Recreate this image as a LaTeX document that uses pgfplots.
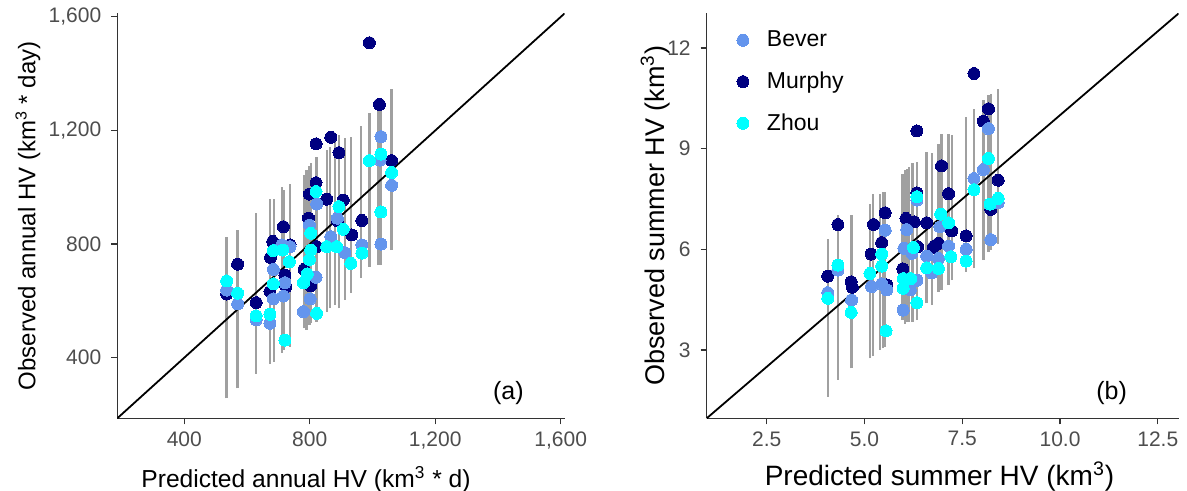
\documentclass[border=0pt]{standalone}
\usepackage{pgfplots}
\pgfplotsset{compat=1.18}
\usepackage{pgfplotstable}
\usepackage{fontspec}
\setmainfont{Liberation Sans}

\definecolor{bever}{HTML}{6495ED}
\definecolor{murphy}{HTML}{000080}
\definecolor{zhou}{HTML}{00FFFF}
\definecolor{intgray}{RGB}{160,160,160}
\definecolor{tickgray}{HTML}{4D4D4D}

% annual panel (a)
\pgfplotstableread{
x y
535 624
570 729
629 594
673 633
682 809
675 753
716 861
721 691
737 797
724 650
820 1016
799 976
796 891
782 711
803 653
822 791
820 1153
854 958
867 1176
893 1122
907 955
888 883
934 832
966 883
990 1509
1022 1292
1027 1178
1061 1094
}\murphyA
\pgfplotstableread{
x y
535 638
570 589
629 533
673 521
684 607
684 711
711 797
737 791
721 664
716 617
822 941
799 867
820 683
801 607
780 562
867 826
912 770
888 891
966 797
1027 1178
1024 1096
1027 800
1061 1007
}\beverA
\pgfplotstableread{
x y
535 670
570 627
629 547
673 553
684 660
684 777
714 779
721 462
735 738
820 985
803 838
799 746
792 695
780 664
822 556
803 779
893 932
854 791
886 791
907 852
931 732
966 768
990 1094
1027 1117
1027 913
1061 1052
}\zhouA
% intervals: low end, high end, break
\pgfplotstableread{
x y
535 257
535 826
535 nan
570 292
570 850
570 nan
629 343
629 911
629 nan
673 378
673 958
673 nan
686 386
686 959
686 nan
711 418
711 1002
711 nan
718 427
718 991
718 nan
737 439
737 1012
737 nan
782 503
782 1043
782 nan
790 498
790 1061
790 nan
799 515
799 1075
799 nan
803 521
803 1084
803 nan
822 527
822 1108
822 nan
854 562
854 1131
854 nan
865 574
865 1143
865 nan
881 586
881 1184
881 nan
893 574
893 1184
893 nan
912 603
912 1172
912 nan
931 627
931 1178
931 nan
963 680
963 1216
963 nan
990 721
990 1261
990 nan
1019 726
1019 1290
1019 nan
1027 726
1027 1284
1027 nan
1061 779
1061 1345
}\intA

% summer panel (b)
\pgfplotstableread{
x y
4.06 5.20
4.32 6.74
4.66 5.03
4.69 4.87
5.23 6.74
5.17 5.86
5.44 6.20
5.53 7.09
5.57 4.94
5.98 5.42
6.06 6.92
6.27 6.82
6.34 9.53
6.34 7.68
6.36 6.08
6.59 6.79
6.76 6.06
6.89 6.18
6.97 8.49
7.15 7.66
7.23 6.55
7.60 6.40
7.80 11.24
8.04 9.82
8.17 10.19
8.23 7.19
8.42 8.06
}\murphyB
\pgfplotstableread{
x y
4.06 4.71
4.32 5.38
4.67 4.49
5.18 4.89
5.53 6.57
5.44 4.97
5.57 4.79
5.99 4.19
6.08 6.59
6.01 6.03
6.17 4.79
6.34 5.08
6.34 7.47
6.21 5.88
6.59 5.80
6.72 5.30
6.89 5.73
6.93 6.67
7.15 6.10
7.60 6.00
7.80 8.11
8.04 8.38
8.17 9.60
8.23 6.29
8.42 7.39
}\beverB
\pgfplotstableread{
x y
4.06 4.54
4.32 5.53
4.66 4.12
5.14 5.28
5.44 5.86
5.44 5.50
5.55 3.57
5.99 5.13
5.99 4.84
6.18 5.13
6.34 7.57
6.25 6.06
6.34 4.41
6.59 5.45
6.89 5.43
6.95 7.05
7.15 6.79
7.21 5.78
7.60 5.65
7.80 7.78
8.17 8.71
8.21 7.35
8.42 7.52
}\zhouB
\pgfplotstableread{
x y
4.06 1.61
4.06 6.32
4.06 nan
4.32 2.11
4.32 7.02
4.32 nan
4.67 2.45
4.67 7.02
4.67 nan
5.14 2.75
5.14 7.35
5.14 nan
5.21 2.82
5.21 7.66
5.21 nan
5.40 3.00
5.40 7.66
5.40 nan
5.47 3.05
5.47 7.71
5.47 nan
5.53 3.10
5.53 7.71
5.53 nan
5.97 3.89
5.97 8.26
5.97 nan
6.04 3.79
6.04 8.36
6.04 nan
6.08 3.84
6.08 8.41
6.08 nan
6.14 3.84
6.14 8.46
6.14 nan
6.23 3.84
6.23 8.58
6.23 nan
6.34 3.89
6.34 8.61
6.34 nan
6.59 4.39
6.59 8.90
6.59 nan
6.72 4.34
6.72 8.86
6.72 nan
6.89 4.74
6.89 9.15
6.89 nan
6.97 4.79
6.97 9.45
6.97 nan
7.15 4.94
7.15 9.45
7.15 nan
7.23 5.08
7.23 9.40
7.23 nan
7.60 5.33
7.60 9.95
7.60 nan
7.80 5.43
7.80 10.19
7.80 nan
8.04 5.68
8.04 10.44
8.04 nan
8.17 5.93
8.17 10.59
8.17 nan
8.23 5.98
8.23 10.64
8.23 nan
8.42 6.15
8.42 10.79
}\intB

\pgfplotsset{
  hv/.style={
    scale only axis, height=202.4pt,
    axis x line*=bottom, axis y line*=left,
    axis line style={draw=black!80, line width=0.6pt, -},
    tick align=outside, major tick length=3pt,
    tick style={draw=black!80, line width=0.6pt},
    ticklabel style={font=\fontsize{10.5}{12}\selectfont, text=tickgray},
    yticklabel style={xshift=-1.5pt},
    /pgf/number format/assume math mode=true,
    unbounded coords=jump,
    clip=true,
  },
  dots/.style={only marks, mark=*, mark size=3pt, color=#1,
    mark options={solid, draw=#1, fill=#1, line width=0pt}},
  ints/.style={draw=intgray, line width=1.2pt, mark=none, forget plot},
}

\begin{document}
\begin{tikzpicture}
\path[use as bounding box] (-58.65pt,-36.35pt) rectangle (534.85pt,209.15pt);

\begin{axis}[hv, width=223.6pt, at={(0pt,0pt)},
  xmin=186.5, xmax=1612, ymin=186.5, ymax=1612,
  xtick={400,800,1200,1600}, ytick={400,800,1200,1600},
  /pgf/number format/1000 sep={,},
  xlabel={Predicted annual HV (km\textsuperscript{3} * d)},
  ylabel={Observed annual HV (km\textsuperscript{3} * day)},
  xlabel style={at={(axis description cs:0.422,-0.17)}, anchor=base,
    font=\fontsize{12.3}{14}\selectfont},
  ylabel style={at={(axis description cs:-0.2,0.5)}, anchor=center,
    font=\fontsize{12}{14}\selectfont},
]
\addplot[ints] table[x=x, y=y] {\intA};
\addplot[dots=murphy] table[x=x, y=y] {\murphyA};
\addplot[dots=bever] table[x=x, y=y] {\beverA};
\addplot[dots=zhou] table[x=x, y=y] {\zhouA};
\addplot[black, line width=0.9pt] coordinates {(186.5,186.5) (1612,1612)};
\node[font=\fontsize{12.5}{14}\selectfont] at (axis cs:1433,274) {(a)};
\end{axis}

\begin{axis}[hv, width=235.9pt, at={(294.7pt,0pt)},
  xmin=0.965, xmax=13.03, ymin=0.965, ymax=13.03,
  xtick={2.5,5,7.5,10,12.5}, ytick={3,6,9,12},
  xticklabel style={/pgf/number format/.cd, fixed, fixed zerofill, precision=1},
  xlabel={Predicted summer HV (km\textsuperscript{3})},
  ylabel={Observed summer HV (km\textsuperscript{3})},
  xlabel style={at={(axis description cs:0.4935,-0.166)}, anchor=base,
    font=\fontsize{14}{16}\selectfont},
  ylabel style={at={(axis description cs:-0.109,0.5)}, anchor=center,
    font=\fontsize{13.5}{16}\selectfont},
  legend style={at={(0.0506,0.9776)}, anchor=north west, draw=none, fill=none,
    font=\fontsize{11.5}{13}\selectfont, row sep=7pt,
    /tikz/every odd column/.append style={column sep=7pt}},
  legend cell align=left,
]
\addlegendimage{dots=bever}
\addlegendentry{Bever}
\addlegendimage{dots=murphy}
\addlegendentry{Murphy}
\addlegendimage{dots=zhou}
\addlegendentry{Zhou}
\addplot[ints] table[x=x, y=y] {\intB};
\addplot[dots=murphy, forget plot] table[x=x, y=y] {\murphyB};
\addplot[dots=bever, forget plot] table[x=x, y=y] {\beverB};
\addplot[dots=zhou, forget plot] table[x=x, y=y] {\zhouB};
\addplot[black, line width=0.9pt, forget plot] coordinates {(0.965,0.965) (13.03,13.03)};
\node[font=\fontsize{12.5}{14}\selectfont] at (axis cs:11.32,1.71) {(b)};
\end{axis}
\end{tikzpicture}
\end{document}
